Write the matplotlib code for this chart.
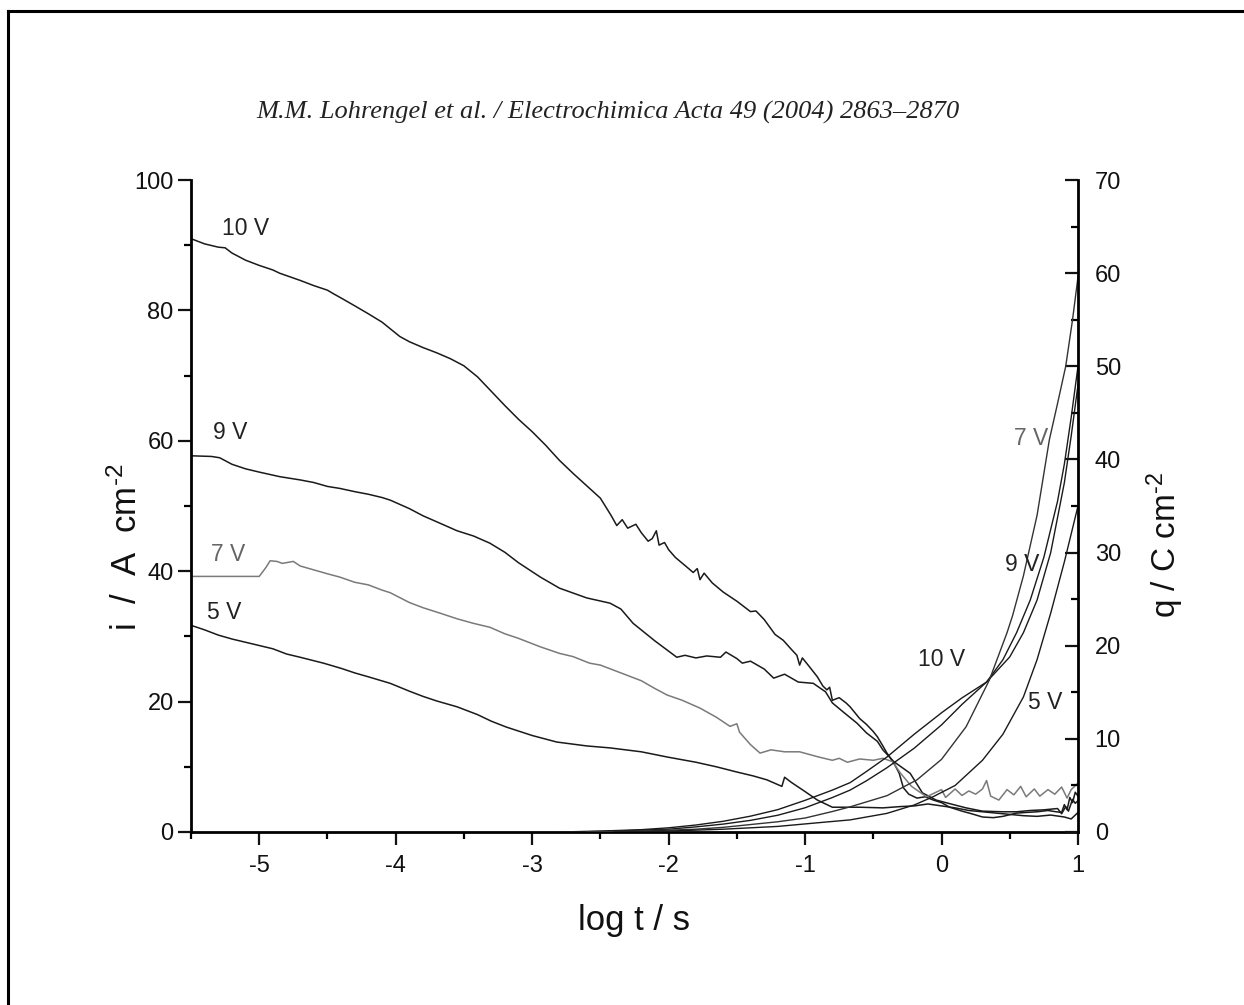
import matplotlib
matplotlib.use("Agg")
import matplotlib.pyplot as plt
from matplotlib.lines import Line2D

plt.rcParams['font.family'] = ['Liberation Sans', 'DejaVu Sans']
plt.rcParams['mathtext.fontset'] = 'custom'
plt.rcParams['mathtext.rm'] = 'Liberation Sans'
plt.rcParams['mathtext.it'] = 'Liberation Sans:italic'
plt.rcParams['mathtext.bf'] = 'Liberation Sans:bold'
plt.rcParams['axes.unicode_minus'] = False

# ---------------- data ----------------
# current density i (A cm^-2) vs log t
x_i10 = [-5.5, -5.4, -5.3, -5.25, -5.2, -5.1, -5.0, -4.9, -4.85, -4.7, -4.6, -4.5, -4.46, -4.4, -4.3, -4.21,
         -4.1, -3.97, -3.9, -3.8, -3.7, -3.6, -3.5, -3.4, -3.3, -3.2, -3.1, -3.0, -2.9, -2.87, -2.8, -2.7,
         -2.6, -2.5, -2.42, -2.38, -2.34, -2.3, -2.24, -2.2, -2.15, -2.12, -2.09, -2.07, -2.03, -2.0, -1.95,
         -1.87, -1.82, -1.79, -1.77, -1.74, -1.68, -1.6, -1.5, -1.4, -1.36, -1.3, -1.22, -1.16, -1.1, -1.06,
         -1.04, -1.02, -0.97, -0.91, -0.87, -0.84, -0.82, -0.8, -0.75, -0.7, -0.67, -0.6, -0.55, -0.5, -0.47,
         -0.43, -0.4, -0.35, -0.31, -0.28, -0.24, -0.18, -0.12, -0.06, 0.0, 0.06, 0.15, 0.22, 0.3, 0.38,
         0.45, 0.55, 0.62, 0.7, 0.78, 0.84, 0.88, 0.9, 0.92, 0.94, 0.96, 0.98, 1.0]
i10 = [91.0, 90.2, 89.7, 89.6, 88.8, 87.7, 86.9, 86.2, 85.7, 84.6, 83.8, 83.1, 82.6, 81.9, 80.7, 79.6,
       78.2, 76.0, 75.2, 74.3, 73.5, 72.6, 71.5, 69.8, 67.6, 65.4, 63.3, 61.4, 59.3, 58.6, 57.0, 55.0,
       53.1, 51.2, 48.5, 47.0, 47.9, 46.6, 47.2, 45.9, 44.6, 45.0, 46.2, 44.0, 44.4, 43.3, 42.1,
       40.7, 39.8, 40.4, 38.7, 39.7, 38.2, 36.8, 35.4, 33.8, 33.9, 32.6, 30.3, 29.4, 28.0, 27.1,
       25.6, 26.7, 25.4, 23.8, 22.4, 21.8, 22.2, 20.2, 20.6, 19.8, 19.2, 17.4, 16.5, 15.4, 14.6,
       13.2, 12.1, 10.6, 9.0, 6.8, 5.8, 5.2, 5.4, 4.9, 4.5, 3.8, 3.2, 2.8, 2.3, 2.2,
       2.4, 2.9, 3.0, 3.1, 3.3, 3.1, 3.0, 4.2, 3.4, 5.3, 4.5, 6.1, 5.5]

x_i9 = [-5.5, -5.35, -5.29, -5.2, -5.1, -5.0, -4.85, -4.7, -4.6, -4.5, -4.41, -4.3, -4.2, -4.1, -4.04,
        -3.9, -3.8, -3.68, -3.55, -3.43, -3.31, -3.2, -3.1, -2.94, -2.8, -2.6, -2.43, -2.35, -2.26, -2.1,
        -1.94, -1.88, -1.8, -1.72, -1.62, -1.58, -1.5, -1.46, -1.4, -1.3, -1.23, -1.15, -1.05, -0.94, -0.85,
        -0.8, -0.72, -0.62, -0.55, -0.47, -0.43, -0.35, -0.27, -0.23, -0.14, -0.04, 0.05, 0.18, 0.3,
        0.45, 0.55, 0.65, 0.75, 0.85, 0.88, 0.91, 0.93, 0.96, 0.98, 1.0]
i9 = [57.7, 57.6, 57.4, 56.4, 55.7, 55.2, 54.5, 54.0, 53.6, 53.0, 52.7, 52.2, 51.8, 51.3, 50.9,
      49.6, 48.5, 47.4, 46.2, 45.4, 44.3, 42.9, 41.3, 39.1, 37.4, 35.9, 35.1, 34.2, 32.0, 29.3,
      26.8, 27.1, 26.7, 27.0, 26.8, 27.6, 26.6, 25.9, 26.2, 25.0, 23.6, 24.2, 23.0, 22.8, 21.5,
      19.8, 18.4, 16.7, 15.2, 13.9, 12.6, 10.8, 9.6, 9.0, 6.0, 4.9, 4.4, 3.7, 3.2,
      3.1, 3.1, 3.3, 3.4, 3.6, 2.8, 3.9, 3.2, 5.0, 4.4, 4.8]

x_i7 = [-5.5, -5.0, -4.95, -4.92, -4.87, -4.83, -4.75, -4.7, -4.6, -4.5, -4.41, -4.3, -4.2, -4.1, -4.04,
        -3.9, -3.8, -3.68, -3.55, -3.43, -3.31, -3.2, -3.1, -2.94, -2.8, -2.7, -2.58, -2.5, -2.35, -2.2,
        -2.1, -2.01, -1.9, -1.77, -1.65, -1.55, -1.5, -1.48, -1.4, -1.33, -1.25, -1.15, -1.04, -0.9,
        -0.8, -0.75, -0.69, -0.6, -0.5, -0.43, -0.36, -0.3, -0.22, -0.11, -0.05, 0.0, 0.03, 0.1, 0.15,
        0.2, 0.25, 0.3, 0.33, 0.36, 0.42, 0.48, 0.53, 0.58, 0.62, 0.68, 0.72, 0.78, 0.83, 0.88, 0.92,
        0.95, 1.0]
i7 = [39.2, 39.2, 40.6, 41.6, 41.5, 41.2, 41.5, 40.8, 40.2, 39.6, 39.1, 38.3, 37.9, 37.1, 36.7,
      35.2, 34.4, 33.6, 32.7, 32.0, 31.4, 30.4, 29.7, 28.4, 27.4, 26.9, 25.9, 25.6, 24.4, 23.2,
      22.0, 21.0, 20.2, 19.0, 17.6, 16.2, 16.6, 15.3, 13.4, 12.1, 12.6, 12.3, 12.3, 11.5,
      11.0, 11.3, 10.7, 11.2, 11.0, 11.3, 10.8, 9.0, 7.0, 5.4, 6.0, 6.5, 5.3, 6.6, 5.6,
      6.3, 5.8, 6.6, 7.9, 5.5, 4.9, 6.5, 5.7, 7.0, 5.4, 6.6, 5.5, 6.5, 5.8, 6.9, 5.2,
      6.5, 7.5]

x_i5 = [-5.5, -5.4, -5.3, -5.2, -5.02, -4.9, -4.8, -4.7, -4.53, -4.4, -4.3, -4.2, -4.04, -3.9, -3.8,
        -3.7, -3.55, -3.4, -3.3, -3.19, -3.0, -2.82, -2.6, -2.43, -2.2, -2.01, -1.8, -1.65, -1.5, -1.38,
        -1.28, -1.17, -1.15, -1.1, -1.0, -0.91, -0.8, -0.6, -0.43, -0.3, -0.2, -0.1, 0.0, 0.1, 0.2, 0.4,
        0.6, 0.7, 0.8, 0.9, 0.95, 1.0]
i5 = [31.7, 31.0, 30.2, 29.6, 28.7, 28.1, 27.3, 26.8, 25.9, 25.1, 24.4, 23.8, 22.8, 21.6, 20.8,
      20.1, 19.2, 18.0, 17.0, 16.1, 14.8, 13.8, 13.2, 12.9, 12.3, 11.5, 10.7, 10.0, 9.2, 8.6,
      8.0, 7.0, 8.4, 7.6, 6.2, 4.9, 3.8, 3.8, 3.7, 3.9, 4.0, 4.3, 4.0, 3.7, 3.3, 2.9,
      2.5, 2.4, 2.6, 2.3, 2.0, 3.0]

# charge density q (C cm^-2) vs log t
x_q10 = [-2.8, -2.5, -2.2, -2.0, -1.8, -1.6, -1.4, -1.2, -1.0, -0.8, -0.67, -0.55, -0.4, -0.2, 0.0, 0.15,
         0.33, 0.5, 0.6, 0.7, 0.8, 0.9, 0.95, 1.0]
q10 = [0.0, 0.1, 0.25, 0.45, 0.75, 1.15, 1.7, 2.4, 3.4, 4.5, 5.3, 6.5, 8.05, 10.5, 12.8, 14.4,
       16.1, 18.8, 21.4, 24.9, 30.0, 37.5, 42.5, 48.0]

x_q9 = [-2.7, -2.4, -2.0, -1.8, -1.6, -1.4, -1.2, -1.0, -0.8, -0.67, -0.55, -0.4, -0.2, 0.0, 0.15, 0.33,
        0.45, 0.55, 0.65, 0.75, 0.85, 0.9, 0.95, 1.0]
q9 = [0.0, 0.1, 0.3, 0.55, 0.85, 1.25, 1.8, 2.6, 3.7, 4.5, 5.5, 6.9, 9.0, 11.5, 13.7, 16.1,
      18.5, 21.4, 24.9, 29.5, 35.5, 39.5, 44.5, 50.0]

x_q7 = [-2.6, -2.2, -1.8, -1.6, -1.4, -1.2, -1.0, -0.8, -0.67, -0.4, -0.18, 0.0, 0.18, 0.35, 0.48, 0.52,
        0.6, 0.7, 0.79, 0.85, 0.91, 0.96, 1.0]
q7 = [0.0, 0.1, 0.3, 0.5, 0.8, 1.1, 1.5, 2.2, 2.7, 3.9, 5.6, 7.8, 11.3, 16.3, 21.4, 23.2,
      27.5, 34.0, 42.1, 46.0, 50.0, 55.0, 59.6]

x_q5 = [-2.4, -2.0, -1.6, -1.2, -0.9, -0.67, -0.4, -0.2, -0.06, 0.1, 0.3, 0.45, 0.6, 0.7, 0.8, 0.9,
        0.95, 1.0]
q5 = [0.0, 0.1, 0.3, 0.6, 1.0, 1.3, 2.0, 2.9, 3.8, 5.0, 7.7, 10.5, 14.5, 18.5, 23.5, 29.0,
      32.0, 35.0]

x_ticks = [-5, -4, -3, -2, -1, 0, 1]
i_ticks = [0, 20, 40, 60, 80, 100]
q_ticks = [0, 10, 20, 30, 40, 50, 60, 70]

# ---------------- figure ----------------
W, H = 1244, 1005
fig = plt.figure(figsize=(W / 100, H / 100), dpi=100)
fig.patch.set_facecolor('white')

def fx(px):
    return px / W

def fy(py):
    return 1 - py / H

ax = fig.add_axes([fx(191), fy(832), fx(1078) - fx(191), fy(180) - fy(832)])
ax2 = ax.twinx()

blk = '#1a1a1a'
ax.plot(x_i10, i10, color=blk, lw=1.1)
ax.plot(x_i9, i9, color=blk, lw=1.1)
ax.plot(x_i7, i7, color='#7a7a7a', lw=1.1)
ax.plot(x_i5, i5, color=blk, lw=1.1)

ax2.plot(x_q10, q10, color=blk, lw=1.0)
ax2.plot(x_q9, q9, color=blk, lw=1.0)
ax2.plot(x_q7, q7, color='#333333', lw=1.0)
ax2.plot(x_q5, q5, color=blk, lw=1.0)

ax.set_xlim(-5.5, 1)
ax.set_ylim(0, 100)
ax2.set_ylim(0, 70)

ax.set_xticks(x_ticks)
ax.set_xticks([-5.5, -4.5, -3.5, -2.5, -1.5, -0.5, 0.5], minor=True)
ax.set_yticks(i_ticks)
ax.set_yticks([10, 30, 50, 70, 90], minor=True)
ax2.set_yticks(q_ticks)
ax2.set_yticks([5, 15, 25, 35, 45, 55, 65], minor=True)

for s in ['top', 'right']:
    ax.spines[s].set_visible(False)
for s in ['top', 'left', 'bottom']:
    ax2.spines[s].set_visible(False)
ax.spines['left'].set_linewidth(2.0)
ax.spines['bottom'].set_linewidth(2.0)
ax2.spines['right'].set_linewidth(2.0)

ax.tick_params(axis='both', which='major', direction='out', length=9.5, width=1.6,
               labelsize=17, colors='#111111')
ax.tick_params(axis='y', which='major', pad=3)
ax.tick_params(axis='x', which='major', pad=7)
ax.tick_params(axis='both', which='minor', direction='out', length=5, width=1.6)
ax2.tick_params(axis='y', which='major', direction='in', length=9.5, width=1.6,
                labelsize=17, pad=12, colors='#111111')
ax2.tick_params(axis='y', which='minor', direction='in', length=5, width=1.6)

# curve labels
lab_fs = 16.5
ax.text(-5.10, 92.6, '10 V', fontsize=lab_fs, ha='center', va='center', color='#222222')
ax.text(-5.21, 61.2, '9 V', fontsize=lab_fs, ha='center', va='center', color='#222222')
ax.text(-5.23, 42.5, '7 V', fontsize=lab_fs, ha='center', va='center', color='#666666')
ax.text(-5.26, 33.6, '5 V', fontsize=lab_fs, ha='center', va='center', color='#222222')
ax2.text(0.654, 42.3, '7 V', fontsize=lab_fs, ha='center', va='center', color='#666666')
ax2.text(0.59, 28.7, '9 V', fontsize=lab_fs, ha='center', va='center', color='#222222')
ax2.text(0.0, 18.5, '10 V', fontsize=lab_fs, ha='center', va='center', color='#222222')
ax2.text(0.757, 13.9, '5 V', fontsize=lab_fs, ha='center', va='center', color='#222222')

# axis labels
fig.text(fx(127), fy(547), r'i  /  A  cm$^{\text{-2}}$', rotation=90, fontsize=25,
         ha='center', va='center', color='#111111')
fig.text(fx(1165), fy(545), r'q / C cm$^{\text{-2}}$', rotation=90, fontsize=24,
         ha='center', va='center', color='#111111')
fig.text(fx(634), fy(920), 'log t / s', fontsize=25, ha='center', va='center', color='#111111')

# header
fig.text(fx(608), fy(112), 'M.M. Lohrengel et al. / Electrochimica Acta 49 (2004) 2863\u20132870',
         fontsize=19, family='Liberation Serif', style='italic', ha='center', va='center',
         color='#222222')

# page frame (left and top edges)
fig.add_artist(Line2D([fx(8), fx(8)], [fy(11), 0], transform=fig.transFigure, color='black', lw=2.2))
fig.add_artist(Line2D([fx(8), 1], [fy(11), fy(11)], transform=fig.transFigure, color='black', lw=2.2))

fig.savefig('out.png', dpi=100, facecolor='white')
